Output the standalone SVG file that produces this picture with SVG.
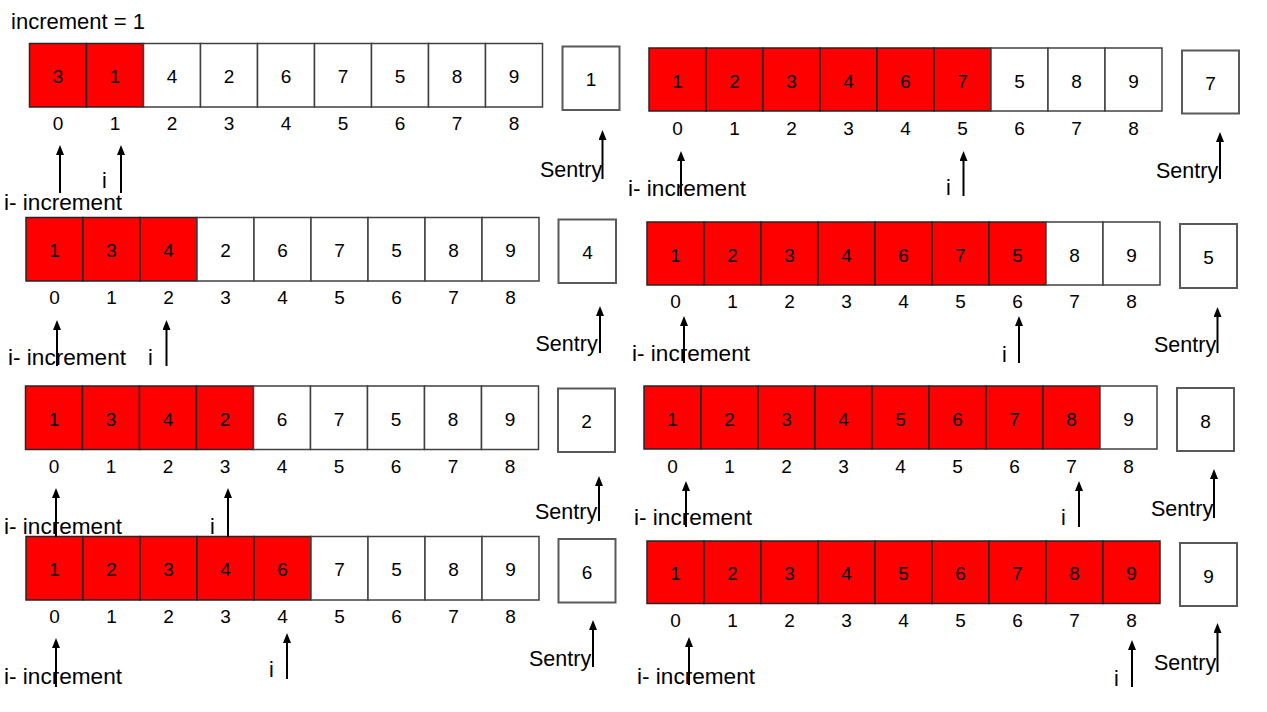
<svg xmlns="http://www.w3.org/2000/svg" width="1267" height="712" viewBox="0 0 1267 712">
<defs>
<style>
.c{fill:#fff;stroke:#404040;stroke-width:1.5}
.r{fill:#ff0000;stroke:#262626;stroke-width:1.5}
.s{fill:#fff;stroke:#595959;stroke-width:2}
.v{font-family:"Liberation Sans",Arial,sans-serif;font-size:19px;text-anchor:middle;fill:#000}
.l{font-family:"Liberation Sans",Arial,sans-serif;font-size:21.5px;fill:#000}
.a{stroke:#000;stroke-width:2;fill:none;marker-end:url(#ah)}
</style>
<marker id="ah" markerUnits="userSpaceOnUse" markerWidth="10" markerHeight="8" refX="4" refY="4" orient="auto">
<path d="M0,0 L10,4 L0,8 z" fill="#000"/>
</marker>
</defs>
<rect width="1267" height="712" fill="#fff"/>
<text class="l" x="11" y="29" textLength="134" lengthAdjust="spacingAndGlyphs">increment = 1</text>

<g id="step1">
<g transform="translate(29.5,43.5)">
<rect class="r" x="0" y="0" width="57" height="63.5"/><rect class="r" x="57" y="0" width="57" height="63.5"/>
<rect class="c" x="114" y="0" width="57" height="63.5"/><rect class="c" x="171" y="0" width="57" height="63.5"/><rect class="c" x="228" y="0" width="57" height="63.5"/><rect class="c" x="285" y="0" width="57" height="63.5"/><rect class="c" x="342" y="0" width="57" height="63.5"/><rect class="c" x="399" y="0" width="57" height="63.5"/><rect class="c" x="456" y="0" width="57" height="63.5"/>
<text class="v" x="28.5" y="39.5">3</text><text class="v" x="85.5" y="39.5">1</text><text class="v" x="142.5" y="39.5">4</text><text class="v" x="199.5" y="39.5">2</text><text class="v" x="256.5" y="39.5">6</text><text class="v" x="313.5" y="39.5">7</text><text class="v" x="370.5" y="39.5">5</text><text class="v" x="427.5" y="39.5">8</text><text class="v" x="484.5" y="39.5">9</text>
<text class="v" x="28.5" y="86.5">0</text><text class="v" x="85.5" y="86.5">1</text><text class="v" x="142.5" y="86.5">2</text><text class="v" x="199.5" y="86.5">3</text><text class="v" x="256.5" y="86.5">4</text><text class="v" x="313.5" y="86.5">5</text><text class="v" x="370.5" y="86.5">6</text><text class="v" x="427.5" y="86.5">7</text><text class="v" x="484.5" y="86.5">8</text>
<rect class="s" x="533" y="3" width="57" height="63.5"/><text class="v" x="561.5" y="42">1</text>
</g>
<text class="l" x="102" y="188">i</text>
<text class="l" x="4" y="210" textLength="118" lengthAdjust="spacingAndGlyphs">i- increment</text>
<text class="l" x="540" y="177">Sentry</text>
</g>

<g id="step2">
<g transform="translate(26,217.5)">
<rect class="r" x="0" y="0" width="57" height="63.5"/><rect class="r" x="57" y="0" width="57" height="63.5"/><rect class="r" x="114" y="0" width="57" height="63.5"/>
<rect class="c" x="171" y="0" width="57" height="63.5"/><rect class="c" x="228" y="0" width="57" height="63.5"/><rect class="c" x="285" y="0" width="57" height="63.5"/><rect class="c" x="342" y="0" width="57" height="63.5"/><rect class="c" x="399" y="0" width="57" height="63.5"/><rect class="c" x="456" y="0" width="57" height="63.5"/>
<text class="v" x="28.5" y="39.5">1</text><text class="v" x="85.5" y="39.5">3</text><text class="v" x="142.5" y="39.5">4</text><text class="v" x="199.5" y="39.5">2</text><text class="v" x="256.5" y="39.5">6</text><text class="v" x="313.5" y="39.5">7</text><text class="v" x="370.5" y="39.5">5</text><text class="v" x="427.5" y="39.5">8</text><text class="v" x="484.5" y="39.5">9</text>
<text class="v" x="28.5" y="86.5">0</text><text class="v" x="85.5" y="86.5">1</text><text class="v" x="142.5" y="86.5">2</text><text class="v" x="199.5" y="86.5">3</text><text class="v" x="256.5" y="86.5">4</text><text class="v" x="313.5" y="86.5">5</text><text class="v" x="370.5" y="86.5">6</text><text class="v" x="427.5" y="86.5">7</text><text class="v" x="484.5" y="86.5">8</text>
<rect class="s" x="532.5" y="2" width="57.5" height="63.5"/><text class="v" x="561.5" y="41">4</text>
</g>
<text class="l" x="8" y="365" textLength="118" lengthAdjust="spacingAndGlyphs">i- increment</text>
<text class="l" x="148" y="365">i</text>
<text class="l" x="535.5" y="351">Sentry</text>
</g>

<g id="step3">
<g transform="translate(25.5,386)">
<rect class="r" x="0" y="0" width="57" height="63.5"/><rect class="r" x="57" y="0" width="57" height="63.5"/><rect class="r" x="114" y="0" width="57" height="63.5"/><rect class="r" x="171" y="0" width="57" height="63.5"/>
<rect class="c" x="228" y="0" width="57" height="63.5"/><rect class="c" x="285" y="0" width="57" height="63.5"/><rect class="c" x="342" y="0" width="57" height="63.5"/><rect class="c" x="399" y="0" width="57" height="63.5"/><rect class="c" x="456" y="0" width="57" height="63.5"/>
<text class="v" x="28.5" y="39.5">1</text><text class="v" x="85.5" y="39.5">3</text><text class="v" x="142.5" y="39.5">4</text><text class="v" x="199.5" y="39.5">2</text><text class="v" x="256.5" y="39.5">6</text><text class="v" x="313.5" y="39.5">7</text><text class="v" x="370.5" y="39.5">5</text><text class="v" x="427.5" y="39.5">8</text><text class="v" x="484.5" y="39.5">9</text>
<text class="v" x="28.5" y="86.5">0</text><text class="v" x="85.5" y="86.5">1</text><text class="v" x="142.5" y="86.5">2</text><text class="v" x="199.5" y="86.5">3</text><text class="v" x="256.5" y="86.5">4</text><text class="v" x="313.5" y="86.5">5</text><text class="v" x="370.5" y="86.5">6</text><text class="v" x="427.5" y="86.5">7</text><text class="v" x="484.5" y="86.5">8</text>
<rect class="s" x="532.5" y="2.5" width="57" height="63.5"/><text class="v" x="561" y="42">2</text>
</g>
<text class="l" x="4" y="534" textLength="118" lengthAdjust="spacingAndGlyphs">i- increment</text>
<text class="l" x="210" y="534">i</text>
<text class="l" x="535" y="519">Sentry</text>
</g>

<g id="step4">
<g transform="translate(26,536.5)">
<rect class="r" x="0" y="0" width="57" height="63.5"/><rect class="r" x="57" y="0" width="57" height="63.5"/><rect class="r" x="114" y="0" width="57" height="63.5"/><rect class="r" x="171" y="0" width="57" height="63.5"/><rect class="r" x="228" y="0" width="57" height="63.5"/>
<rect class="c" x="285" y="0" width="57" height="63.5"/><rect class="c" x="342" y="0" width="57" height="63.5"/><rect class="c" x="399" y="0" width="57" height="63.5"/><rect class="c" x="456" y="0" width="57" height="63.5"/>
<text class="v" x="28.5" y="39.5">1</text><text class="v" x="85.5" y="39.5">2</text><text class="v" x="142.5" y="39.5">3</text><text class="v" x="199.5" y="39.5">4</text><text class="v" x="256.5" y="39.5">6</text><text class="v" x="313.5" y="39.5">7</text><text class="v" x="370.5" y="39.5">5</text><text class="v" x="427.5" y="39.5">8</text><text class="v" x="484.5" y="39.5">9</text>
<text class="v" x="28.5" y="86.5">0</text><text class="v" x="85.5" y="86.5">1</text><text class="v" x="142.5" y="86.5">2</text><text class="v" x="199.5" y="86.5">3</text><text class="v" x="256.5" y="86.5">4</text><text class="v" x="313.5" y="86.5">5</text><text class="v" x="370.5" y="86.5">6</text><text class="v" x="427.5" y="86.5">7</text><text class="v" x="484.5" y="86.5">8</text>
<rect class="s" x="532.5" y="2.5" width="57" height="63.5"/><text class="v" x="561" y="42">6</text>
</g>
<text class="l" x="4" y="684" textLength="118" lengthAdjust="spacingAndGlyphs">i- increment</text>
<text class="l" x="269" y="677">i</text>
<text class="l" x="529" y="666">Sentry</text>
</g>

<g id="step5">
<g transform="translate(649,48)">
<rect class="r" x="0" y="0" width="57" height="63"/><rect class="r" x="57" y="0" width="57" height="63"/><rect class="r" x="114" y="0" width="57" height="63"/><rect class="r" x="171" y="0" width="57" height="63"/><rect class="r" x="228" y="0" width="57" height="63"/><rect class="r" x="285" y="0" width="57" height="63"/>
<rect class="c" x="342" y="0" width="57" height="63"/><rect class="c" x="399" y="0" width="57" height="63"/><rect class="c" x="456" y="0" width="57" height="63"/>
<text class="v" x="28.5" y="39.5">1</text><text class="v" x="85.5" y="39.5">2</text><text class="v" x="142.5" y="39.5">3</text><text class="v" x="199.5" y="39.5">4</text><text class="v" x="256.5" y="39.5">6</text><text class="v" x="313.5" y="39.5">7</text><text class="v" x="370.5" y="39.5">5</text><text class="v" x="427.5" y="39.5">8</text><text class="v" x="484.5" y="39.5">9</text>
<text class="v" x="28.5" y="87">0</text><text class="v" x="85.5" y="87">1</text><text class="v" x="142.5" y="87">2</text><text class="v" x="199.5" y="87">3</text><text class="v" x="256.5" y="87">4</text><text class="v" x="313.5" y="87">5</text><text class="v" x="370.5" y="87">6</text><text class="v" x="427.5" y="87">7</text><text class="v" x="484.5" y="87">8</text>
<rect class="s" x="533" y="2.5" width="57" height="63"/><text class="v" x="561.5" y="42">7</text>
</g>
<text class="l" x="628" y="196" textLength="118" lengthAdjust="spacingAndGlyphs">i- increment</text>
<text class="l" x="946" y="195">i</text>
<text class="l" x="1156" y="178">Sentry</text>
</g>

<g id="step6">
<g transform="translate(647,222)">
<rect class="r" x="0" y="0" width="57" height="63"/><rect class="r" x="57" y="0" width="57" height="63"/><rect class="r" x="114" y="0" width="57" height="63"/><rect class="r" x="171" y="0" width="57" height="63"/><rect class="r" x="228" y="0" width="57" height="63"/><rect class="r" x="285" y="0" width="57" height="63"/><rect class="r" x="342" y="0" width="57" height="63"/>
<rect class="c" x="399" y="0" width="57" height="63"/><rect class="c" x="456" y="0" width="57" height="63"/>
<text class="v" x="28.5" y="39.5">1</text><text class="v" x="85.5" y="39.5">2</text><text class="v" x="142.5" y="39.5">3</text><text class="v" x="199.5" y="39.5">4</text><text class="v" x="256.5" y="39.5">6</text><text class="v" x="313.5" y="39.5">7</text><text class="v" x="370.5" y="39.5">5</text><text class="v" x="427.5" y="39.5">8</text><text class="v" x="484.5" y="39.5">9</text>
<text class="v" x="28.5" y="86">0</text><text class="v" x="85.5" y="86">1</text><text class="v" x="142.5" y="86">2</text><text class="v" x="199.5" y="86">3</text><text class="v" x="256.5" y="86">4</text><text class="v" x="313.5" y="86">5</text><text class="v" x="370.5" y="86">6</text><text class="v" x="427.5" y="86">7</text><text class="v" x="484.5" y="86">8</text>
<rect class="s" x="533" y="2" width="57" height="64"/><text class="v" x="561.5" y="41.5">5</text>
</g>
<text class="l" x="632" y="361" textLength="118" lengthAdjust="spacingAndGlyphs">i- increment</text>
<text class="l" x="1002" y="362">i</text>
<text class="l" x="1154" y="352">Sentry</text>
</g>

<g id="step7">
<g transform="translate(644,386)">
<rect class="r" x="0" y="0" width="57" height="63"/><rect class="r" x="57" y="0" width="57" height="63"/><rect class="r" x="114" y="0" width="57" height="63"/><rect class="r" x="171" y="0" width="57" height="63"/><rect class="r" x="228" y="0" width="57" height="63"/><rect class="r" x="285" y="0" width="57" height="63"/><rect class="r" x="342" y="0" width="57" height="63"/><rect class="r" x="399" y="0" width="57" height="63"/>
<rect class="c" x="456" y="0" width="57" height="63"/>
<text class="v" x="28.5" y="39.5">1</text><text class="v" x="85.5" y="39.5">2</text><text class="v" x="142.5" y="39.5">3</text><text class="v" x="199.5" y="39.5">4</text><text class="v" x="256.5" y="39.5">5</text><text class="v" x="313.5" y="39.5">6</text><text class="v" x="370.5" y="39.5">7</text><text class="v" x="427.5" y="39.5">8</text><text class="v" x="484.5" y="39.5">9</text>
<text class="v" x="28.5" y="86.5">0</text><text class="v" x="85.5" y="86.5">1</text><text class="v" x="142.5" y="86.5">2</text><text class="v" x="199.5" y="86.5">3</text><text class="v" x="256.5" y="86.5">4</text><text class="v" x="313.5" y="86.5">5</text><text class="v" x="370.5" y="86.5">6</text><text class="v" x="427.5" y="86.5">7</text><text class="v" x="484.5" y="86.5">8</text>
<rect class="s" x="533" y="2" width="57" height="63"/><text class="v" x="561.5" y="41.5">8</text>
</g>
<text class="l" x="634" y="525" textLength="118" lengthAdjust="spacingAndGlyphs">i- increment</text>
<text class="l" x="1061" y="525">i</text>
<text class="l" x="1151" y="516">Sentry</text>
</g>

<g id="step8">
<g transform="translate(647,541)">
<rect class="r" x="0" y="0" width="57" height="62.5"/><rect class="r" x="57" y="0" width="57" height="62.5"/><rect class="r" x="114" y="0" width="57" height="62.5"/><rect class="r" x="171" y="0" width="57" height="62.5"/><rect class="r" x="228" y="0" width="57" height="62.5"/><rect class="r" x="285" y="0" width="57" height="62.5"/><rect class="r" x="342" y="0" width="57" height="62.5"/><rect class="r" x="399" y="0" width="57" height="62.5"/><rect class="r" x="456" y="0" width="57" height="62.5"/>
<text class="v" x="28.5" y="39">1</text><text class="v" x="85.5" y="39">2</text><text class="v" x="142.5" y="39">3</text><text class="v" x="199.5" y="39">4</text><text class="v" x="256.5" y="39">5</text><text class="v" x="313.5" y="39">6</text><text class="v" x="370.5" y="39">7</text><text class="v" x="427.5" y="39">8</text><text class="v" x="484.5" y="39">9</text>
<text class="v" x="28.5" y="86">0</text><text class="v" x="85.5" y="86">1</text><text class="v" x="142.5" y="86">2</text><text class="v" x="199.5" y="86">3</text><text class="v" x="256.5" y="86">4</text><text class="v" x="313.5" y="86">5</text><text class="v" x="370.5" y="86">6</text><text class="v" x="427.5" y="86">7</text><text class="v" x="484.5" y="86">8</text>
<rect class="s" x="533" y="2" width="57" height="63"/><text class="v" x="561.5" y="41.5">9</text>
</g>
<text class="l" x="637" y="684" textLength="118" lengthAdjust="spacingAndGlyphs">i- increment</text>
<text class="l" x="1114" y="686">i</text>
<text class="l" x="1154" y="670">Sentry</text>
</g>

<g id="connectors">
<line class="a" x1="60" y1="193" x2="60" y2="151"/>
<line class="a" x1="121" y1="193" x2="121" y2="151"/>
<line class="a" x1="602.5" y1="179" x2="602.5" y2="136"/>
<line class="a" x1="57" y1="366" x2="57" y2="326"/>
<line class="a" x1="166.5" y1="366" x2="166.5" y2="326"/>
<line class="a" x1="600" y1="353" x2="600" y2="312"/>
<line class="a" x1="56" y1="537" x2="56" y2="494"/>
<line class="a" x1="228" y1="537" x2="228" y2="494"/>
<line class="a" x1="599" y1="521" x2="599" y2="482"/>
<line class="a" x1="56" y1="687" x2="56" y2="644"/>
<line class="a" x1="287" y1="679" x2="287" y2="639"/>
<line class="a" x1="593" y1="667" x2="593" y2="626"/>
<line class="a" x1="681" y1="196" x2="681" y2="157"/>
<line class="a" x1="963.5" y1="196" x2="963.5" y2="157"/>
<line class="a" x1="1220" y1="179" x2="1220" y2="138"/>
<line class="a" x1="684" y1="363" x2="684" y2="322"/>
<line class="a" x1="1019" y1="363" x2="1019" y2="322"/>
<line class="a" x1="1217.5" y1="353" x2="1217.5" y2="313"/>
<line class="a" x1="686" y1="527" x2="686" y2="487"/>
<line class="a" x1="1079" y1="527" x2="1079" y2="487"/>
<line class="a" x1="1214" y1="518" x2="1214" y2="475"/>
<line class="a" x1="689" y1="685" x2="689" y2="643"/>
<line class="a" x1="1132" y1="687" x2="1132" y2="646"/>
<line class="a" x1="1217.5" y1="672" x2="1217.5" y2="629"/>
</g>
</svg>
